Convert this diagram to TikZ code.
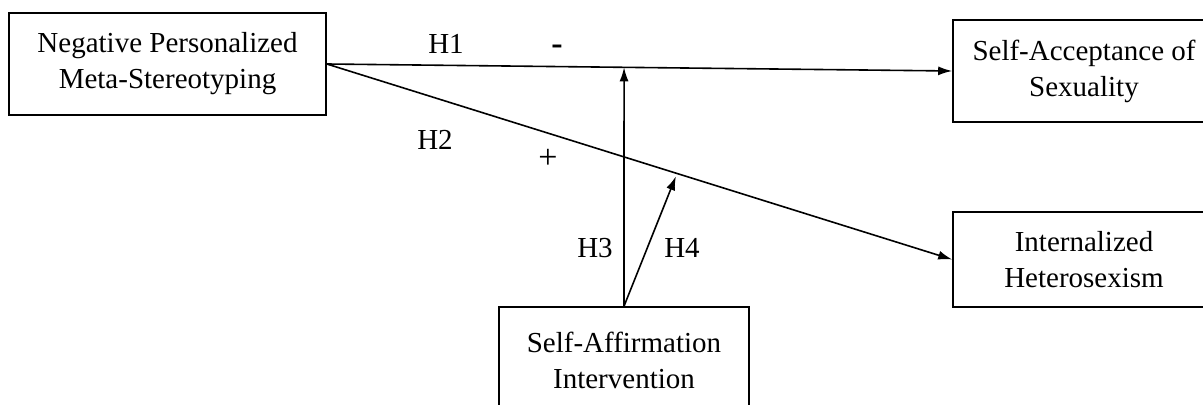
\documentclass[tikz,border=0pt]{standalone}
\usepackage{fontspec}
\setmainfont{Liberation Serif}
\usetikzlibrary{arrows.meta,calc}

\begin{document}
\begin{tikzpicture}[x=0.5pt, y=-0.5pt, font=\fontsize{14.5}{18}\selectfont,
    box/.style={draw, line width=0.8pt, align=center, inner sep=0pt},
    link/.style={line width=0.8pt, -{Latex[length=7pt,width=4.5pt]}},
    sign/.style={font=\fontsize{17}{18}\selectfont}]
  \clip (0,0) rectangle (1203,405);
  % variables
  \node[box, minimum width=158.5pt, minimum height=51pt] (nps) at (167.5,64) {Negative Personalized\\Meta-Stereotyping};
  \node[box, minimum width=131pt, minimum height=51pt] (sas) at (1084,71) {Self-Acceptance of\\Sexuality};
  \node[box, minimum width=131pt, minimum height=47.5pt] (ih) at (1084,259.5) {Internalized\\Heterosexism};
  \node[box, minimum width=125pt, minimum height=53pt] (sai) at (624,360) {Self-Affirmation\\Intervention};
  % paths
  \coordinate (h3tip) at ($(nps.east)!0.4753!(sas.west)$);
  \coordinate (h4tip) at ($(nps.east)!0.56!(ih.west)$);
  \draw[link] (nps.east) -- (sas.west);
  \draw[link] (nps.east) -- (ih.west);
  \draw[link] (sai.north) -- (h3tip);
  \draw[link, shorten >=1.5pt] (sai.north) -- (h4tip);
  % labels
  \node (lh1) at (446,44) {H1};
  \node[sign] (lminus) at (557,50) {\textbf{-}};
  \node (lh2) at (435,140) {H2};
  \node[sign] (lplus) at (548,159) {+};
  \node (lh3) at (595,248) {H3};
  \node (lh4) at (682,248) {H4};
\end{tikzpicture}
\end{document}
